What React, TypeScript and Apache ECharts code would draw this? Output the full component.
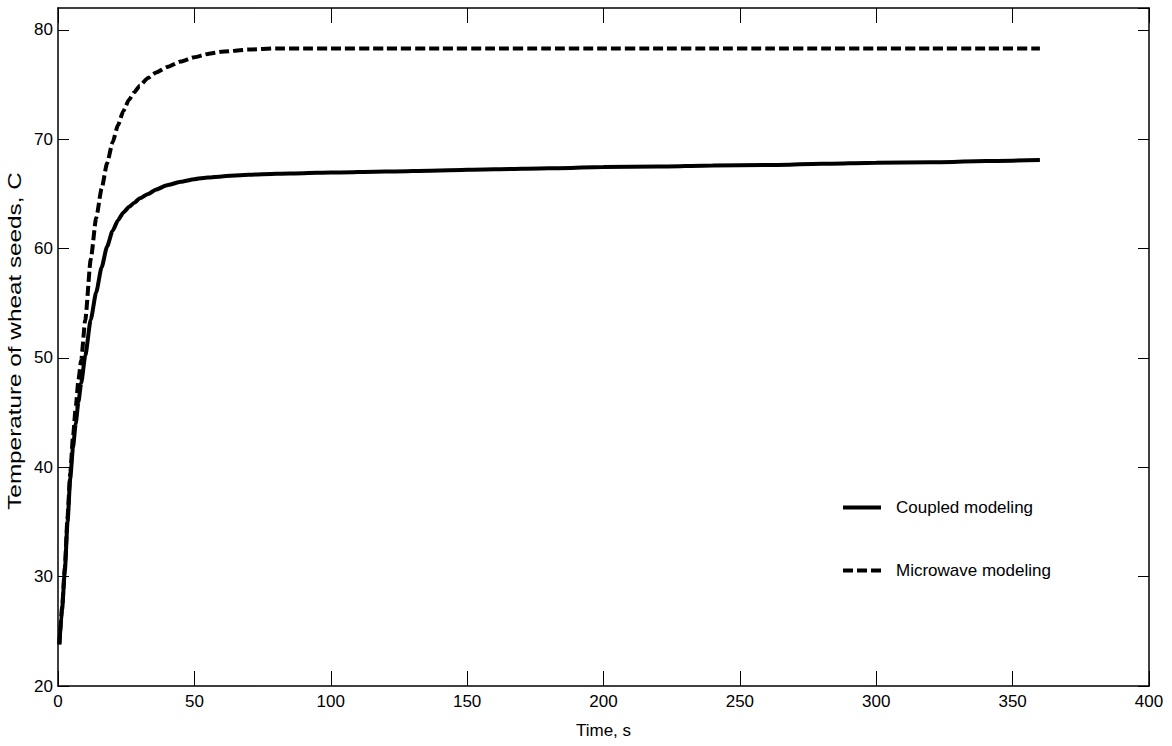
import React, { useEffect, useRef } from "react";
import * as echarts from "echarts";

const timeS = [
  0.5, 1.5, 2.5, 3.5, 4.5, 5.5, 6.5, 7.5, 8.5, 10, 12, 14, 16, 18, 20, 22, 24, 26, 28, 30,
  33, 36, 40, 45, 50, 55, 60, 70, 80, 90, 100, 120, 140, 160, 180, 200, 220, 240, 260, 280,
  300, 320, 340, 360,
];
const coupled = [
  23.8, 27, 30.5, 35, 39, 41.8, 44, 46, 47.7, 50.2, 53.5, 56, 58.3, 60.2, 61.6, 62.6, 63.3, 63.8,
  64.2, 64.6, 65.0, 65.4, 65.8, 66.1, 66.35, 66.5, 66.6, 66.75, 66.85, 66.9, 66.95, 67.05, 67.15,
  67.25, 67.35, 67.45, 67.5, 67.6, 67.65, 67.75, 67.85, 67.9, 68.0, 68.1,
];
const microwave = [
  23.8, 27.2, 30.8, 35.5, 39.5, 42.8, 45.5, 48, 49.8, 53.5, 59, 62.8, 65.5, 67.8, 69.7, 71.3, 72.6,
  73.6, 74.3, 74.9, 75.6, 76.1, 76.6, 77.1, 77.5, 77.8, 78.0, 78.2, 78.3, 78.3, 78.3, 78.3, 78.3,
  78.3, 78.3, 78.3, 78.3, 78.3, 78.3, 78.3, 78.3, 78.3, 78.3, 78.3,
];
const seriesNames = ["Coupled modeling", "Microwave modeling"];
const xLabel = "Time, s";
const yLabel = "Temperature of wheat seeds, C";
const xRange = [0, 400];
const yRange = [20, 82];

const solidIcon = "path://M0,0h38v4h-38z";
const dashIcon = "path://M0,0h10v4h-10z M14,0h10v4h-10z M28,0h10v4h-10z";

export default function App() {
  const ref = useRef<HTMLDivElement>(null);
  useEffect(() => {
    const chart = echarts.init(ref.current!, null, { renderer: "svg" });
    const font = "'Liberation Sans', Arial, Helvetica, sans-serif";
    const axisLine = { show: true, onZero: false, lineStyle: { color: "#000", width: 1.5 } };
    const xTick = { show: true, inside: true, length: 15, lineStyle: { color: "#000", width: 1 } };
    const yTick = { show: true, inside: true, length: 11, lineStyle: { color: "#000", width: 1 } };
    const labelStyle = { color: "#000", fontSize: 17, fontFamily: font };
    chart.setOption({
      animation: false,
      backgroundColor: "#fff",
      grid: { left: 58, right: 23, top: 8, bottom: 60, containLabel: false },
      xAxis: [
        {
          type: "value", min: xRange[0], max: xRange[1], interval: 50, position: "bottom",
          axisLine, axisTick: xTick, splitLine: { show: false },
          axisLabel: { ...labelStyle, margin: 7 },
          name: xLabel, nameLocation: "middle", nameGap: 36,
          nameTextStyle: { ...labelStyle },
        },
        {
          type: "value", min: xRange[0], max: xRange[1], interval: 50, position: "top",
          axisLine, axisTick: xTick, splitLine: { show: false }, axisLabel: { show: false },
        },
      ],
      yAxis: [
        {
          type: "value", min: yRange[0], max: yRange[1], interval: 10, position: "left",
          axisLine, axisTick: yTick, splitLine: { show: false },
          axisLabel: { ...labelStyle, margin: 5, showMaxLabel: false },
        },
        {
          type: "value", min: yRange[0], max: yRange[1], interval: 10, position: "right",
          axisLine, axisTick: yTick, splitLine: { show: false }, axisLabel: { show: false },
        },
      ],
      legend: {
        show: true, orient: "vertical", left: 843, top: 499, itemWidth: 38, itemHeight: 14,
        itemGap: 46, padding: 0,
        itemStyle: { color: "#000", borderWidth: 0 },
        data: [
          { name: seriesNames[0], icon: solidIcon },
          { name: seriesNames[1], icon: dashIcon },
        ],
        textStyle: { ...labelStyle, padding: [0, 0, 0, 10] },
      },
      graphic: [
        {
          type: "text", x: 15, y: 341, rotation: Math.PI / 2, scaleX: 1.35, scaleY: 1,
          style: {
            text: yLabel, fill: "#000", font: "18px 'Liberation Sans', Arial, sans-serif",
            textAlign: "center", textVerticalAlign: "middle",
          },
        },
      ],
      series: [
        {
          name: seriesNames[0], type: "line", symbol: "none", smooth: 0.2, smoothMonotone: "x",
          data: timeS.map((t, i) => [t, coupled[i]]),
          lineStyle: { color: "#000", width: 4 }, itemStyle: { color: "#000" },
        },
        {
          name: seriesNames[1], type: "line", symbol: "none", smooth: 0.2, smoothMonotone: "x",
          data: timeS.map((t, i) => [t, microwave[i]]),
          lineStyle: { color: "#000", width: 4, type: [10, 4] }, itemStyle: { color: "#000" },
        },
      ],
    });
    return () => chart.dispose();
  }, []);
  return (
    <div
      ref={ref}
      style={{ position: "absolute", left: 0, top: 0, width: 1172, height: 746, background: "#fff" }}
    />
  );
}
